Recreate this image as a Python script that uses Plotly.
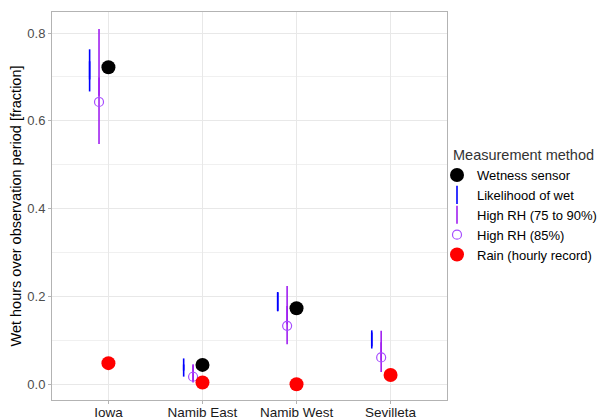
import plotly.graph_objects as go

sites = ["Iowa", "Namib East", "Namib West", "Sevilleta"]

wetness_sensor = [0.722, 0.044, 0.173, None]
likelihood_low = [0.667, 0.031, 0.166, 0.086]
likelihood_high = [0.763, 0.045, 0.210, 0.118]
rh_range_low = [0.547, 0.006, 0.091, 0.028]
rh_range_high = [0.809, 0.043, 0.224, 0.122]
rh_85 = [0.643, 0.017, 0.133, 0.061]
rain = [0.048, 0.004, 0.000, 0.021]

pos = list(range(1, len(sites) + 1))
off_likelihood = -0.2
off_rh = -0.1

FONT = "Liberation Sans, Arial, sans-serif"

fig = go.Figure()

fig.add_trace(go.Scatter(
    x=pos, y=wetness_sensor, mode="markers", name="Wetness sensor",
    marker=dict(color="black", size=14, symbol="circle"),
))

lik_mid = [(a + b) / 2 for a, b in zip(likelihood_low, likelihood_high)]
fig.add_trace(go.Scatter(
    x=[p + off_likelihood for p in pos], y=lik_mid, mode="markers",
    name="Likelihood of wet",
    marker=dict(symbol="line-ns", size=13, color="#0000FF",
                line=dict(color="#0000FF", width=1.6)),
    error_y=dict(type="data", symmetric=False,
                 array=[h - m for h, m in zip(likelihood_high, lik_mid)],
                 arrayminus=[m - l for l, m in zip(likelihood_low, lik_mid)],
                 width=0, thickness=1.6, color="#0000FF"),
))

rh_mid = [(a + b) / 2 for a, b in zip(rh_range_low, rh_range_high)]
fig.add_trace(go.Scatter(
    x=[p + off_rh for p in pos], y=rh_mid, mode="markers",
    name="High RH (75 to 90%)",
    marker=dict(symbol="line-ns", size=13, color="#A020F0",
                line=dict(color="#A020F0", width=1.6)),
    error_y=dict(type="data", symmetric=False,
                 array=[h - m for h, m in zip(rh_range_high, rh_mid)],
                 arrayminus=[m - l for l, m in zip(rh_range_low, rh_mid)],
                 width=0, thickness=1.6, color="#A020F0"),
))

fig.add_trace(go.Scatter(
    x=[p + off_rh for p in pos], y=rh_85, mode="markers",
    name="High RH (85%)",
    marker=dict(symbol="circle-open", size=9, color="#A64DFF",
                line=dict(color="#A64DFF", width=1.2)),
))

fig.add_trace(go.Scatter(
    x=pos, y=rain, mode="markers", name="Rain (hourly record)",
    marker=dict(color="#FF0000", size=14, symbol="circle"),
))

axis_common = dict(
    showline=True, mirror=True, linecolor="#B3B3B3", linewidth=1,
    ticks="outside", ticklen=3, tickcolor="#B3B3B3", tickwidth=1,
    gridcolor="#E8E8E8", gridwidth=1, zeroline=False, automargin=False,
)

PLOT_L, PLOT_R, PLOT_T, PLOT_B = 52, 447, 12, 400
PW, PH = PLOT_R - PLOT_L, PLOT_B - PLOT_T

fig.update_layout(
    width=599, height=419,
    margin=dict(l=PLOT_L, r=599 - PLOT_R, t=PLOT_T, b=419 - PLOT_B,
                autoexpand=False),
    paper_bgcolor="white", plot_bgcolor="white",
    font=dict(family=FONT, size=13, color="black"),
    showlegend=True,
    legend=dict(
        xref="paper", yref="paper",
        x=(437 - PLOT_L) / PW, xanchor="left",
        y=(PLOT_B - 160) / PH, yanchor="top",
        font=dict(size=13, color="black"),
        bgcolor="rgba(0,0,0,0)", itemsizing="trace",
    ),
    annotations=[dict(
        text="Measurement method", xref="paper", yref="paper",
        x=(451 - PLOT_L) / PW, y=(PLOT_B - 155) / PH,
        xanchor="left", yanchor="middle", showarrow=False,
        font=dict(family=FONT, size=14.5, color="#333333"),
    )],
    xaxis=dict(
        range=[0.4, 4.6], tickvals=pos, ticktext=sites,
        tickfont=dict(family=FONT, size=13.5, color="#1a1a1a"),
        ticklabelstandoff=-3,
        **axis_common,
    ),
    yaxis=dict(
        range=[-0.036, 0.848], tickvals=[0.0, 0.2, 0.4, 0.6, 0.8],
        tickformat=".1f",
        tickfont=dict(family=FONT, size=13, color="#4D4D4D"),
        minor=dict(tickvals=[0.1, 0.3, 0.5, 0.7], showgrid=True,
                   gridcolor="#F0F0F0", gridwidth=0.6),
        title=dict(text="Wet hours over observation period [fraction]",
                   font=dict(size=14.5, color="black"), standoff=2),
        **axis_common,
    ),
)

fig.write_html("out.html", config={"displayModeBar": False},
               post_script="document.body.style.margin='0';document.body.style.overflow='hidden';")
